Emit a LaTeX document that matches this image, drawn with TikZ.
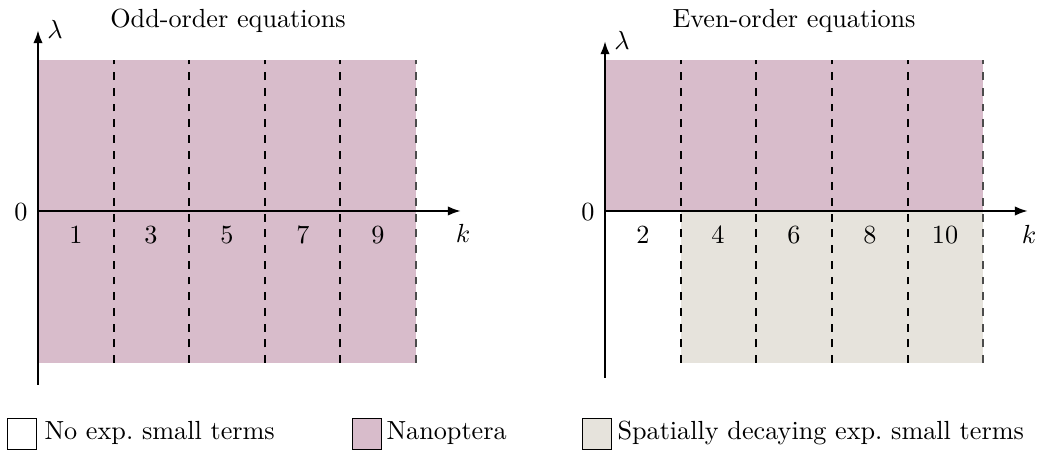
\documentclass[tikz,border=0pt]{standalone}
\usetikzlibrary{arrows.meta}
\definecolor{nanopink}{RGB}{216,188,203}
\definecolor{decaygrey}{RGB}{230,227,220}
\begin{document}
\begin{tikzpicture}[x=0.3817pt,y=-0.3817pt,
  axis/.style={line width=0.9pt,-{Latex[length=5pt,width=3.6pt]}},
  divider/.style={dashed,line width=0.5pt},
  legbox/.style={draw,line width=0.4pt,minimum width=11.2pt,minimum height=11.6pt,inner sep=0pt},
  lbl/.style={inner sep=0pt}]
\useasboundingbox (0,0) rectangle (1038,450);
% ---------- left panel ----------
\fill[nanopink] (38,60) rectangle (416,363);
\foreach \x in {114,189,265,340}{\draw[divider] (\x,363) -- (\x,60);}
\draw[divider,black!70] (416,363) -- (416,60);
\coordinate (lo) at (38,211);
\coordinate (lyb) at (38,385);
\coordinate (lyt) at (38,30);
\coordinate (lxe) at (461,211);
\draw[axis] (lyb) -- (lyt);
\draw[axis] (lo) -- (lxe);
\node[lbl] (ltitle) at (228,21) {Odd-order equations};
\node[lbl] (llam) at (55,29) {$\lambda$};
\node[lbl] (lk) at (463,233) {$k$};
\node[lbl] (lzero) at (21,212) {$0$};
\node[lbl] (l1) at (76,235) {$1$};
\node[lbl] (l3) at (151,235) {$3$};
\node[lbl] (l5) at (227,235) {$5$};
\node[lbl] (l7) at (303,235) {$7$};
\node[lbl] (l9) at (378,235) {$9$};
% ---------- right panel ----------
\fill[nanopink] (605,60) rectangle (983,211);
\fill[decaygrey] (681,211) rectangle (983,363);
\foreach \x in {681,756,832,908}{\draw[divider] (\x,363) -- (\x,60);}
\draw[divider,black!70] (983,363) -- (983,60);
\coordinate (ro) at (605,211);
\coordinate (ryb) at (605,378);
\coordinate (ryt) at (605,41);
\coordinate (rxe) at (1028,211);
\draw[axis] (ryb) -- (ryt);
\draw[axis] (ro) -- (rxe);
\node[lbl] (rtitle) at (794,21) {Even-order equations};
\node[lbl] (rlam) at (622,40) {$\lambda$};
\node[lbl] (rk) at (1029,234) {$k$};
\node[lbl] (rzero) at (588,212) {$0$};
\node[lbl] (r2) at (643,235) {$2$};
\node[lbl] (r4) at (718,235) {$4$};
\node[lbl] (r6) at (794,235) {$6$};
\node[lbl] (r8) at (870,235) {$8$};
\node[lbl] (r10) at (945,235) {$10$};
% ---------- legend ----------
\node[legbox,fill=white] (b1) at (22,434) {};
\node[lbl,anchor=west] (t1) at (44,433) {No exp.\ small terms};
\node[legbox,fill=nanopink] (b2) at (367,434) {};
\node[lbl,anchor=west] (t2) at (386,433) {Nanoptera};
\node[legbox,fill=decaygrey] (b3) at (597,434) {};
\node[lbl,anchor=west] (t3) at (617,433) {Spatially decaying exp.\ small terms};
\end{tikzpicture}
\end{document}
